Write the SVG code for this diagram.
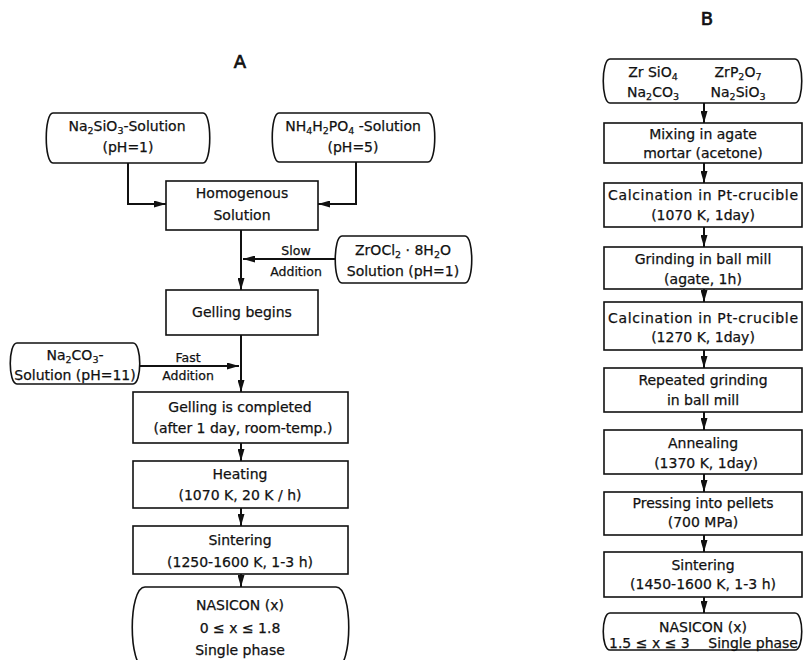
<svg xmlns="http://www.w3.org/2000/svg" width="803" height="660" viewBox="0 0 803 660">
<style>
text{font-family:"DejaVu Sans","Liberation Sans",sans-serif;font-size:14px;fill:#111;stroke:#111;stroke-width:0.25;text-anchor:middle}
.t{font-size:18px;stroke-width:0.7}
.lbl{font-size:12.5px}
.box{fill:#fff;stroke:#111;stroke-width:1.6}
.ln{fill:none;stroke:#111;stroke-width:2}
.s{font-size:9.5px}
</style>
<defs>
<marker id="ah" markerUnits="userSpaceOnUse" markerWidth="12" markerHeight="7" refX="12" refY="3.5" orient="auto">
<path d="M0,0 L12,3.5 L0,7 Z" fill="#111"/>
</marker>
</defs>
<rect width="803" height="660" fill="#fff"/>
<text class="t" x="240" y="68">A</text>
<text class="t" x="707" y="25">B</text>

<g id="connectors">
<path class="ln" d="M128,163 V204 H166" marker-end="url(#ah)"/>
<path class="ln" d="M356,162 V204 H318" marker-end="url(#ah)"/>
<path class="ln" d="M241,230 V290" marker-end="url(#ah)"/>
<path class="ln" d="M335,259 H243" marker-end="url(#ah)"/>
<path class="ln" d="M241,335 V392" marker-end="url(#ah)"/>
<path class="ln" d="M140,366 H239" marker-end="url(#ah)"/>
<path class="ln" d="M241,443 V461" marker-end="url(#ah)"/>
<path class="ln" d="M241,508 V526" marker-end="url(#ah)"/>
<path class="ln" d="M241,574 V587" marker-end="url(#ah)"/>
<path class="ln" d="M704,103 V123" marker-end="url(#ah)"/>
<path class="ln" d="M704,163 V183" marker-end="url(#ah)"/>
<path class="ln" d="M704,227 V247" marker-end="url(#ah)"/>
<path class="ln" d="M704,289 V302" marker-end="url(#ah)"/>
<path class="ln" d="M704,350 V368" marker-end="url(#ah)"/>
<path class="ln" d="M704,412 V430" marker-end="url(#ah)"/>
<path class="ln" d="M704,474 V492" marker-end="url(#ah)"/>
<path class="ln" d="M704,535 V552" marker-end="url(#ah)"/>
<path class="ln" d="M704,597 V613" marker-end="url(#ah)"/>
<text class="lbl" x="296" y="255">Slow</text>
<text class="lbl" x="296" y="276">Addition</text>
<text class="lbl" x="188" y="362">Fast</text>
<text class="lbl" x="188" y="380">Addition</text>
</g>

<g id="na2sio3">
<path class="box" d="M53,113 H203 C212,113 212,163 203,163 H53 C44,163 44,113 53,113 Z"/>
<text x="127" y="131">Na<tspan class="s" dy="3">2</tspan><tspan dy="-3">SiO</tspan><tspan class="s" dy="3">3</tspan><tspan dy="-3">-Solution</tspan></text>
<text x="128" y="152">(pH=1)</text>
</g>
<g id="nh4h2po4">
<path class="box" d="M279,113 H428 C437,113 437,162 428,162 H279 C270,162 270,113 279,113 Z"/>
<text x="353" y="131">NH<tspan class="s" dy="3">4</tspan><tspan dy="-3">H</tspan><tspan class="s" dy="3">2</tspan><tspan dy="-3">PO</tspan><tspan class="s" dy="3">4</tspan><tspan dy="-3"> -Solution</tspan></text>
<text x="353" y="152">(pH=5)</text>
</g>
<g id="homogenous">
<rect class="box" x="166" y="181" width="152" height="49"/>
<text x="242" y="198">Homogenous</text>
<text x="242" y="220">Solution</text>
</g>
<g id="zrocl2">
<path class="box" d="M342,236 H465 C474,236 474,283 465,283 H342 C333,283 333,236 342,236 Z"/>
<text x="403" y="255">ZrOCl<tspan class="s" dy="3">2</tspan><tspan dy="-3"> · 8H</tspan><tspan class="s" dy="3">2</tspan><tspan dy="-3">O</tspan></text>
<text x="403" y="276">Solution (pH=1)</text>
</g>
<g id="gelling-begins">
<rect class="box" x="166" y="290" width="152" height="45"/>
<text x="242" y="317">Gelling begins</text>
</g>
<g id="na2co3">
<path class="box" d="M17,343 H133 C142,343 142,384 133,384 H17 C8,384 8,343 17,343 Z"/>
<text x="75" y="360">Na<tspan class="s" dy="3">2</tspan><tspan dy="-3">CO</tspan><tspan class="s" dy="3">3</tspan><tspan dy="-3">-</tspan></text>
<text x="75" y="380">Solution (pH=11)</text>
</g>
<g id="gelling-completed">
<rect class="box" x="133" y="392" width="215" height="51"/>
<text x="240" y="412">Gelling is completed</text>
<text x="243" y="433">(after 1 day, room-temp.)</text>
</g>
<g id="heating">
<rect class="box" x="133" y="461" width="215" height="47"/>
<text x="240" y="479">Heating</text>
<text x="240" y="500">(1070 K, 20 K / h)</text>
</g>
<g id="sintering-a">
<rect class="box" x="133" y="526" width="215" height="48"/>
<text x="240" y="545">Sintering</text>
<text x="240" y="567">(1250-1600 K, 1-3 h)</text>
</g>
<g id="nasicon-a">
<path class="box" d="M145,587 H336 C353,587 353,668 336,668 H145 C128,668 128,587 145,587 Z"/>
<text x="240" y="610">NASICON (x)</text>
<text x="240" y="633">0 ≤ x ≤ 1.8</text>
<text x="240" y="655">Single phase</text>
</g>

<g id="b-start">
<path class="box" d="M610,59 H795 C804,59 804,103 795,103 H610 C601,103 601,59 610,59 Z"/>
<text x="653" y="77">Zr SiO<tspan class="s" dy="3">4</tspan></text>
<text x="738" y="77">ZrP<tspan class="s" dy="3">2</tspan><tspan dy="-3">O</tspan><tspan class="s" dy="3">7</tspan></text>
<text x="653" y="97">Na<tspan class="s" dy="3">2</tspan><tspan dy="-3">CO</tspan><tspan class="s" dy="3">3</tspan></text>
<text x="738" y="97">Na<tspan class="s" dy="3">2</tspan><tspan dy="-3">SiO</tspan><tspan class="s" dy="3">3</tspan></text>
</g>
<g id="mixing">
<rect class="box" x="604" y="123" width="198" height="40"/>
<text x="703" y="139">Mixing in agate</text>
<text x="703" y="158">mortar (acetone)</text>
</g>
<g id="calcination1">
<rect class="box" x="604" y="183" width="198" height="44"/>
<text x="703" y="200" textLength="190" lengthAdjust="spacing">Calcination in Pt-crucible</text>
<text x="703" y="220">(1070 K, 1day)</text>
</g>
<g id="grinding">
<rect class="box" x="604" y="247" width="198" height="42"/>
<text x="703" y="264">Grinding in ball mill</text>
<text x="703" y="284">(agate, 1h)</text>
</g>
<g id="calcination2">
<rect class="box" x="604" y="302" width="198" height="48"/>
<text x="703" y="323" textLength="190" lengthAdjust="spacing">Calcination in Pt-crucible</text>
<text x="703" y="342">(1270 K, 1day)</text>
</g>
<g id="repeated-grinding">
<rect class="box" x="604" y="368" width="198" height="44"/>
<text x="703" y="385">Repeated grinding</text>
<text x="703" y="405">in ball mill</text>
</g>
<g id="annealing">
<rect class="box" x="604" y="430" width="198" height="44"/>
<text x="703" y="448">Annealing</text>
<text x="706" y="468">(1370 K, 1day)</text>
</g>
<g id="pressing">
<rect class="box" x="604" y="492" width="198" height="43"/>
<text x="703" y="508">Pressing into pellets</text>
<text x="703" y="527">(700  MPa)</text>
</g>
<g id="sintering-b">
<rect class="box" x="604" y="552" width="198" height="45"/>
<text x="703" y="570">Sintering</text>
<text x="703" y="589">(1450-1600 K, 1-3 h)</text>
</g>
<g id="nasicon-b">
<path class="box" d="M610,613 H795 C804,613 804,650 795,650 H610 C601,650 601,613 610,613 Z"/>
<text x="703" y="632">NASICON (x)</text>
<text x="609" y="648" style="text-anchor:start">1.5 ≤ x ≤ 3</text>
<text x="798" y="648" style="text-anchor:end">Single phase</text>
</g>
</svg>
